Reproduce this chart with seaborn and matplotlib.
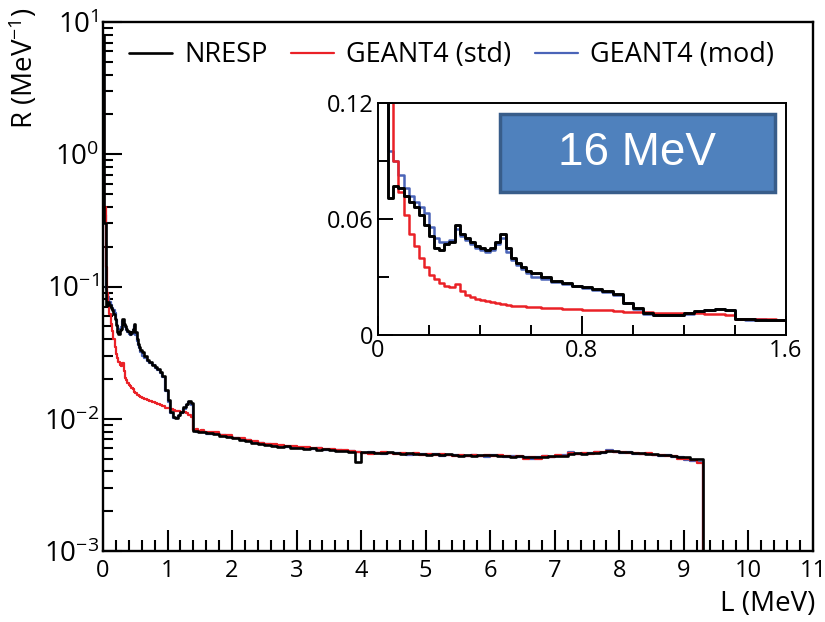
import matplotlib
matplotlib.use("Agg")
import matplotlib.pyplot as plt
from matplotlib.patches import Rectangle
from matplotlib.ticker import FixedLocator, LogLocator, NullFormatter, MultipleLocator
import seaborn as sns

# L (MeV), left bin edges
L = [0.00, 0.02, 0.04, 0.06, 0.08, 0.10, 0.12, 0.14, 0.16, 0.18,
     0.20, 0.22, 0.24, 0.26, 0.28, 0.30, 0.32, 0.34, 0.36, 0.38,
     0.40, 0.42, 0.44, 0.46, 0.48, 0.50, 0.52, 0.54, 0.56, 0.58,
     0.60, 0.64, 0.68, 0.72, 0.76, 0.80, 0.84, 0.88, 0.92, 0.96,
     1.00, 1.04, 1.08, 1.12, 1.16, 1.20, 1.24, 1.28, 1.32, 1.36,
     1.40, 1.44, 1.48, 1.52, 1.56,
     1.6, 1.7, 1.8, 1.9, 2.0, 2.1, 2.2, 2.3, 2.4, 2.5,
     2.6, 2.7, 2.8, 2.9, 3.0, 3.1, 3.2, 3.3, 3.4, 3.5,
     3.6, 3.7, 3.8, 3.9, 4.0, 4.1, 4.2, 4.3, 4.4, 4.5,
     4.6, 4.7, 4.8, 4.9, 5.0, 5.1, 5.2, 5.3, 5.4, 5.5,
     5.6, 5.7, 5.8, 5.9, 6.0, 6.1, 6.2, 6.3, 6.4, 6.5,
     6.6, 6.7, 6.8, 6.9, 7.0, 7.1, 7.2, 7.3, 7.4, 7.5,
     7.6, 7.7, 7.8, 7.9, 8.0, 8.1, 8.2, 8.3, 8.4, 8.5,
     8.6, 8.7, 8.8, 8.9, 9.0, 9.1, 9.2,
     9.3, 11.0]

nresp = [8.0, 0.30, 0.071, 0.077, 0.076, 0.072, 0.069, 0.066, 0.062, 0.057,
         0.051, 0.045, 0.044, 0.047, 0.048, 0.057, 0.052, 0.050, 0.048, 0.046,
         0.045, 0.044, 0.045, 0.048, 0.052, 0.045, 0.040, 0.037, 0.035, 0.033,
         0.032, 0.030, 0.028, 0.0267, 0.0256, 0.0246, 0.0236, 0.0226, 0.0212, 0.0165,
         0.0138, 0.0113, 0.0103, 0.0102, 0.0106, 0.0113, 0.0122, 0.0130, 0.0137, 0.0131,
         0.0081, 0.0081, 0.0080, 0.0080, 0.0079,
         0.0078, 0.0077, 0.0074, 0.0073, 0.0071, 0.0069, 0.0068, 0.0066, 0.0064, 0.0063,
         0.0062, 0.0061, 0.0062, 0.0060, 0.0060, 0.0059, 0.0060, 0.0058, 0.0059, 0.0058,
         0.0057, 0.0057, 0.0056, 0.0047, 0.0056, 0.0056, 0.0055, 0.0055, 0.0056, 0.0055,
         0.0054, 0.0055, 0.0054, 0.0054, 0.0053, 0.0054, 0.0053, 0.0054, 0.0053, 0.0052,
         0.0053, 0.0052, 0.0053, 0.0053, 0.0053, 0.0052, 0.0052, 0.0051, 0.0052, 0.0051,
         0.0051, 0.0051, 0.0051, 0.0052, 0.0052, 0.0052, 0.0054, 0.0055, 0.0054, 0.0055,
         0.0055, 0.0056, 0.0057, 0.0057, 0.0056, 0.0056, 0.0055, 0.0055, 0.0054, 0.0054,
         0.0053, 0.0053, 0.0052, 0.0051, 0.0051, 0.0050, 0.0050,
         1e-5, 1e-5]

g4_std = [3.0, 0.40, 0.14, 0.090, 0.074, 0.062, 0.052, 0.046, 0.040, 0.035,
          0.031, 0.029, 0.027, 0.0255, 0.0250, 0.0265, 0.0230, 0.0205, 0.0195, 0.0185,
          0.0180, 0.0176, 0.0172, 0.0168, 0.0160, 0.0156, 0.0152, 0.0150, 0.0148, 0.0146,
          0.0144, 0.0142, 0.0139, 0.0137, 0.0134, 0.0131, 0.0129, 0.0127, 0.0124, 0.0121,
          0.0120, 0.0118, 0.0116, 0.0115, 0.0114, 0.0113, 0.0112, 0.0110, 0.0107, 0.0104,
          0.0082, 0.0083, 0.0081, 0.0082, 0.0080,
          0.0080, 0.0079, 0.0076, 0.0075, 0.0072, 0.0071, 0.0069, 0.0068, 0.0066, 0.0065,
          0.0064, 0.0063, 0.0062, 0.0062, 0.0061, 0.0061, 0.0060, 0.0060, 0.0059, 0.0059,
          0.0058, 0.0058, 0.0057, 0.0056, 0.0055, 0.0054, 0.0055, 0.0056, 0.0055, 0.0054,
          0.0055, 0.0054, 0.0055, 0.0053, 0.0054, 0.0053, 0.0054, 0.0053, 0.0052, 0.0053,
          0.0052, 0.0053, 0.0052, 0.0053, 0.0052, 0.0053, 0.0052, 0.0051, 0.0052, 0.0050,
          0.0051, 0.0050, 0.0052, 0.0051, 0.0053, 0.0052, 0.0055, 0.0054, 0.0055, 0.0054,
          0.0056, 0.0056, 0.0057, 0.0056, 0.0056, 0.0055, 0.0055, 0.0054, 0.0055, 0.0053,
          0.0053, 0.0052, 0.0052, 0.0050, 0.0050, 0.0049, 0.0046,
          1e-5, 1e-5]

g4_mod = [6.0, 0.35, 0.095, 0.090, 0.083, 0.076, 0.072, 0.069, 0.066, 0.063,
          0.056, 0.050, 0.048, 0.048, 0.049, 0.055, 0.051, 0.049, 0.047, 0.045,
          0.044, 0.043, 0.044, 0.047, 0.050, 0.043, 0.039, 0.036, 0.034, 0.032,
          0.030, 0.0288, 0.0275, 0.0263, 0.0253, 0.0243, 0.0233, 0.0223, 0.0208, 0.0163,
          0.0133, 0.0110, 0.0101, 0.0102, 0.0105, 0.0111, 0.0119, 0.0127, 0.0133, 0.0128,
          0.0082, 0.0080, 0.0081, 0.0079, 0.0080,
          0.0077, 0.0078, 0.0075, 0.0074, 0.0072, 0.0070, 0.0069, 0.0067, 0.0066, 0.0064,
          0.0063, 0.0062, 0.0061, 0.0061, 0.0060, 0.0060, 0.0059, 0.0060, 0.0058, 0.0058,
          0.0058, 0.0057, 0.0057, 0.0056, 0.0055, 0.0056, 0.0055, 0.0054, 0.0055, 0.0055,
          0.0054, 0.0053, 0.0054, 0.0054, 0.0053, 0.0054, 0.0052, 0.0053, 0.0053, 0.0052,
          0.0052, 0.0053, 0.0052, 0.0051, 0.0053, 0.0052, 0.0051, 0.0052, 0.0051, 0.0051,
          0.0050, 0.0051, 0.0052, 0.0051, 0.0052, 0.0053, 0.0056, 0.0054, 0.0054, 0.0055,
          0.0056, 0.0055, 0.0058, 0.0056, 0.0055, 0.0056, 0.0054, 0.0054, 0.0054, 0.0053,
          0.0052, 0.0053, 0.0051, 0.0051, 0.0049, 0.0048, 0.0047,
          1e-5, 1e-5]

labels = ["NRESP", "GEANT4 (std)", "GEANT4 (mod)"]
colors = {"NRESP": "black", "GEANT4 (std)": "#ea2127", "GEANT4 (mod)": "#4a64b8"}

sns.set_style("ticks")
plt.rcParams["font.family"] = ["Open Sans", "DejaVu Sans"]
plt.rcParams["mathtext.fontset"] = "custom"
plt.rcParams["mathtext.rm"] = "Open Sans"
plt.rcParams["mathtext.it"] = "Open Sans:italic"
plt.rcParams["text.color"] = "black"
plt.rcParams["xtick.color"] = "black"
plt.rcParams["ytick.color"] = "black"
plt.rcParams["axes.edgecolor"] = "black"

fig = plt.figure(figsize=(8.25, 6.22), dpi=100)
ax = fig.add_axes([0.1248, 0.1141, 0.8606, 0.8505])

series = {"GEANT4 (mod)": g4_mod, "GEANT4 (std)": g4_std, "NRESP": nresp}


def draw(a, lw):
    for name, vals in series.items():
        sns.lineplot(x=L, y=vals, ax=a, color=colors[name],
                     lw=lw + (0.3 if name == "NRESP" else 0),
                     drawstyle="steps-post", label=name, legend=False)


draw(ax, 1.6)
ax.set_yscale("log")
ax.set_xlim(0, 11)
ax.set_ylim(1e-3, 10)

ax.xaxis.set_major_locator(FixedLocator(range(0, 12)))
ax.xaxis.set_minor_locator(MultipleLocator(0.2))
ax.set_yticks([1e-3, 1e-2, 1e-1, 1e0, 1e1])
ax.set_yticklabels([r"$\mathregular{10^{-3}}$", r"$\mathregular{10^{-2}}$",
                    r"$\mathregular{10^{-1}}$", r"$\mathregular{10^{0}}$",
                    r"$\mathregular{10^{1}}$"])
ax.yaxis.set_minor_locator(LogLocator(base=10, subs=range(2, 10)))
ax.yaxis.set_minor_formatter(NullFormatter())
ax.tick_params(axis="x", which="major", direction="in", length=15, width=1.5,
               labelsize=17, pad=6)
ax.tick_params(axis="x", which="minor", direction="in", length=8, width=1.5)
ax.tick_params(axis="y", which="major", direction="in", length=14, width=1.5,
               labelsize=20, pad=3)
ax.tick_params(axis="y", which="minor", direction="in", length=7, width=1.5)
for s in ax.spines.values():
    s.set_linewidth(1.7)
ax.set_xlabel("")
ax.set_ylabel("")

fig.text(24 / 825, 1 - 68 / 622, r"R (MeV$^{-1}$)", rotation=90,
         ha="center", va="center", fontsize=20)
fig.text(815 / 825, 1 - 604 / 622, "L (MeV)", ha="right", va="center",
         fontsize=20)

handles, labs = ax.get_legend_handles_labels()
order = [labs.index(n) for n in labels]
fig.legend([handles[i] for i in order], labels, loc="center left",
           bbox_to_anchor=(129 / 825, 1 - 55 / 622), ncol=3, frameon=False,
           fontsize=19.5, handlelength=1.6, handletextpad=0.45,
           columnspacing=0.85, borderpad=0, borderaxespad=0)

# inset
axin = fig.add_axes([0.4582, 0.4614, 0.4945, 0.373])
draw(axin, 1.8)
axin.set_xlim(0, 1.6)
axin.set_ylim(0, 0.12)
axin.set_xticks([0, 0.8, 1.6])
axin.set_xticklabels(["0", "0.8", "1.6"])
axin.xaxis.set_minor_locator(MultipleLocator(0.2))
axin.set_yticks([0, 0.06, 0.12])
axin.set_yticklabels(["0", "0.06", "0.12"])
axin.yaxis.set_minor_locator(MultipleLocator(0.03))
axin.tick_params(axis="x", which="major", direction="in", length=14, width=1.4,
                 labelsize=17, pad=3)
axin.tick_params(axis="x", which="minor", direction="in", length=7, width=1.4)
axin.tick_params(axis="y", which="major", direction="in", length=11, width=1.4,
                 labelsize=17, pad=3)
axin.tick_params(axis="y", which="minor", direction="in", length=8, width=1.4)
for s in axin.spines.values():
    s.set_linewidth(1.4)
axin.set_xlabel("")
axin.set_ylabel("")

axin.add_patch(Rectangle((0.299, 0.616), 0.674, 0.337, transform=axin.transAxes,
                         facecolor="#4f81bd", edgecolor="#385d8a", lw=2.5,
                         zorder=5))
axin.text(0.636, 0.785, "16 MeV", transform=axin.transAxes, ha="center",
          va="center", color="white", fontsize=33, family="Liberation Sans",
          zorder=6)

fig.savefig("out.png", dpi=100)
